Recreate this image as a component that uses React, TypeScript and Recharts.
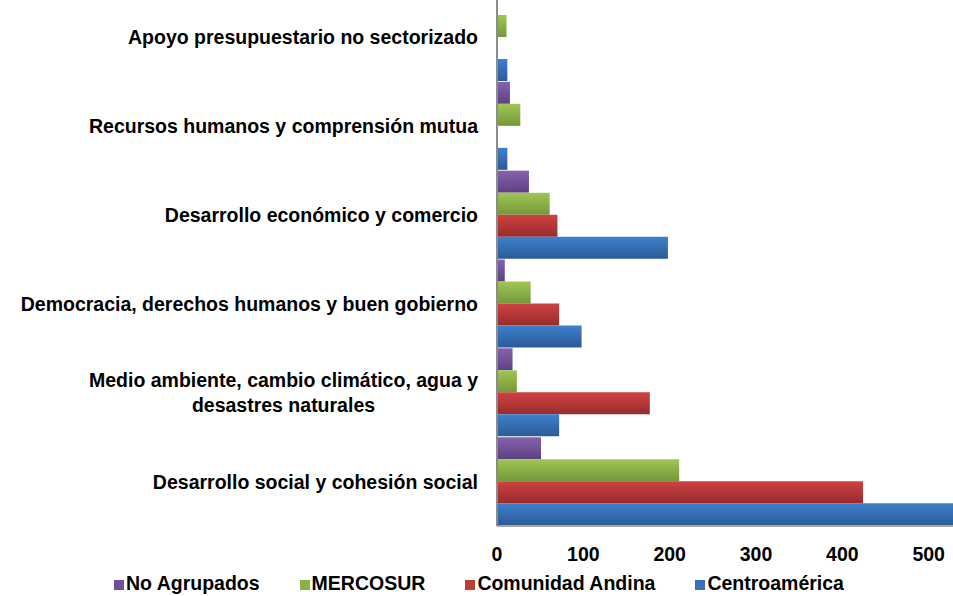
import React from 'react';
import { BarChart, Bar, XAxis, YAxis, Legend } from 'recharts';

const categories = [
  'Apoyo presupuestario no sectorizado',
  'Recursos humanos y comprensión mutua ',
  'Desarrollo económico y comercio',
  'Democracia, derechos humanos  y buen gobierno',
  'Medio ambiente, cambio climático, agua y\ndesastres naturales',
  'Desarrollo social y cohesión social',
];

const noAgrupados = [0, 15, 37, 9, 18, 51];
const mercosur = [11, 27, 61, 39, 23, 211];
const comunidadAndina = [0, 0, 70, 72, 177, 424];
const centroamerica = [12, 12, 198, 98, 72, 560];

const xTicks = [0, 100, 200, 300, 400, 500];

const seriesNames = ['No Agrupados', 'MERCOSUR', 'Comunidad Andina', 'Centroamérica'];
const seriesKeys = ['noAgrupados', 'mercosur', 'comunidadAndina', 'centroamerica'];
const seriesTop = ['#8662ad', '#a0c655', '#cf4242', '#3f7fcc'];
const seriesBottom = ['#5d4281', '#75983a', '#982c2b', '#2b5b97'];
const seriesLegend = ['#6f4f9c', '#8bb044', '#c03a3a', '#3a6fb8'];

const data = categories.map((c, i) => ({
  category: c,
  noAgrupados: noAgrupados[i],
  mercosur: mercosur[i],
  comunidadAndina: comunidadAndina[i],
  centroamerica: centroamerica[i],
}));

const FONT = "'Liberation Sans', Arial, sans-serif";
const FS = 19.5;

let ctx: CanvasRenderingContext2D | null = null;
function measure(t: string) {
  if (!ctx) {
    const c = document.createElement('canvas');
    ctx = c.getContext('2d');
  }
  if (!ctx) return t.length * FS * 0.55;
  ctx.font = `bold ${FS}px ${FONT}`;
  return ctx.measureText(t).width;
}

const CategoryTick = (props: any) => {
  const { x, y, payload } = props;
  const lines: string[] = String(payload.value).split('\n');
  const lh = 25;
  const startY = y - ((lines.length - 1) * lh) / 2;
  if (lines.length === 1) {
    return (
      <text x={x} y={y} dy="0.36em" textAnchor="end" fontFamily={FONT} fontWeight="bold" fontSize={FS} fill="#000">
        {lines[0]}
      </text>
    );
  }
  const maxW = Math.max(...lines.map(measure));
  const cx = x - maxW / 2;
  return (
    <text textAnchor="middle" fontFamily={FONT} fontWeight="bold" fontSize={FS} fill="#000">
      {lines.map((l, i) => (
        <tspan key={i} x={cx} y={startY + i * lh} dy="0.36em">
          {l}
        </tspan>
      ))}
    </text>
  );
};

const LegendContent = () => (
  <div
    style={{
      display: 'flex',
      gap: 40,
      marginLeft: 114,
      marginTop: 6,
      fontFamily: FONT,
      fontWeight: 'bold',
      fontSize: FS,
      color: '#000',
      lineHeight: '22px',
      alignItems: 'center',
    }}
  >
    {seriesNames.map((n, i) => (
      <div key={n} style={{ display: 'flex', alignItems: 'center' }}>
        <span style={{ display: 'inline-block', width: 10, height: 10, background: seriesLegend[i], marginRight: 2, marginTop: 4 }} />
        <span>{n}</span>
      </div>
    ))}
  </div>
);

export default function App() {
  return (
    <div style={{ position: 'absolute', left: 0, top: 0, width: 953, height: 596, overflow: 'hidden', background: '#fff' }}>
      <div style={{ position: 'absolute', left: 0, top: -7 }}>
        <BarChart
          width={1030}
          height={603}
          data={data}
          layout="vertical"
          barCategoryGap={0}
          barGap={0}
          margin={{ top: 0, right: 15, bottom: 0, left: 0 }}
        >
          <defs>
            {seriesKeys.map((k, i) => (
              <linearGradient key={k} id={`grad-${k}`} x1="0" y1="0" x2="0" y2="1">
                <stop offset="0%" stopColor={seriesTop[i]} />
                <stop offset="100%" stopColor={seriesBottom[i]} />
              </linearGradient>
            ))}
          </defs>
          <XAxis
            type="number"
            domain={[0, 600]}
            ticks={xTicks}
            allowDataOverflow
            height={40}
            tickSize={0}
            tickMargin={21}
            axisLine={{ stroke: '#a6a6a6', strokeWidth: 2 }}
            tickLine={false}
            tick={{ fontFamily: FONT, fontWeight: 'bold', fontSize: FS, fill: '#000' }}
          />
          <YAxis
            type="category"
            dataKey="category"
            width={497}
            tickSize={0}
            tickMargin={19}
            axisLine={{ stroke: '#8c8c8c', strokeWidth: 2 }}
            tickLine={false}
            interval={0}
            tick={<CategoryTick />}
          />
          {seriesKeys.map((k, i) => (
            <Bar key={k} dataKey={k} name={seriesNames[i]} fill={`url(#grad-${k})`} isAnimationActive={false} />
          ))}
          <Legend
            verticalAlign="bottom"
            height={30}
            content={<LegendContent />}
            wrapperStyle={{ left: 0, width: 953, bottom: 0, height: 30 }}
          />
        </BarChart>
      </div>
    </div>
  );
}
